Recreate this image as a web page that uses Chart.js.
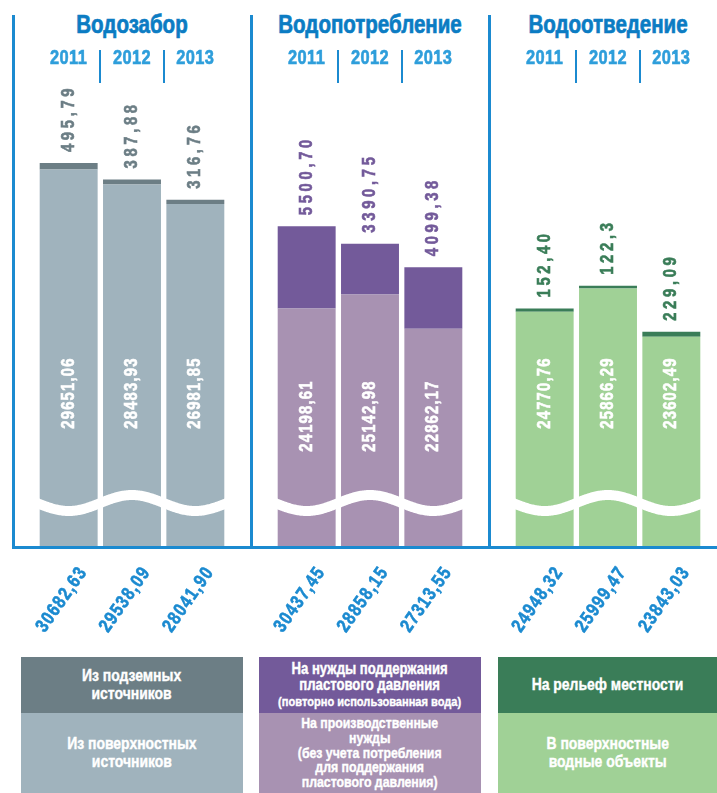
<!DOCTYPE html>
<html lang="ru">
<head>
<meta charset="utf-8">
<title>Водозабор, водопотребление, водоотведение</title>
<script src="https://cdn.jsdelivr.net/npm/chart.js@4.4.1/dist/chart.umd.min.js"></script>
<style>
  html, body { margin: 0; padding: 0; background: #fff; }
  body {
    width: 717px; height: 793px; position: relative; overflow: hidden;
    font-family: "Liberation Sans", Arial, sans-serif;
    font-weight: bold;
  }
  .frame { position: absolute; top: 15px; height: 533px; border-left: 3px solid #1b8ad0; }
  .axis-line { position: absolute; left: 12px; right: 0; top: 546px; height: 3px; background: #1b8ad0; z-index: 3; }
  h2 {
    position: absolute; top: 12px; margin: 0; width: 240px;
    text-align: center; font-size: 25px; line-height: 25px; color: #0b7cc3;
    transform: scaleX(0.82);
    -webkit-text-stroke: 0.7px #0b7cc3;
  }
  .chart-box { position: absolute; top: 40px; width: 230px; height: 610px; }
  .legend { position: absolute; top: 657px; color: #fff; text-align: center; }
  .legend > div { display: flex; align-items: center; justify-content: center; }
  .legend span {
    display: inline-block; transform: scaleX(0.82); white-space: nowrap;
    -webkit-text-stroke: 0.4px #fff;
  }
  .legend .dark  { height: 56px; }
  .legend .light { height: 80px; }
  .lg17 { font-size: 17px; line-height: 18px; }
  .lg16 { font-size: 16px; line-height: 16px; }
  .lg15 { font-size: 15px; line-height: 14.8px; }
  .small { font-size: 13.5px; }
</style>
</head>
<body>

<div class="frame" style="left:12px"></div>
<div class="frame" style="left:250px"></div>
<div class="frame" style="left:488px"></div>
<div class="axis-line"></div>

<h2 style="left:12px">Водозабор</h2>
<h2 style="left:250px">Водопотребление</h2>
<h2 style="left:488px">Водоотведение</h2>

<div class="chart-box" style="left:17px"><canvas id="c-intake"></canvas></div>
<div class="chart-box" style="left:255px"><canvas id="c-use"></canvas></div>
<div class="chart-box" style="left:493px"><canvas id="c-discharge"></canvas></div>

<div class="legend" style="left:21px; width:222px">
  <div class="dark lg17" style="background:#6c7e85"><span>Из подземных<br>источников</span></div>
  <div class="light lg17" style="background:#a0b3bd"><span>Из поверхностных<br>источников</span></div>
</div>
<div class="legend" style="left:259px; width:222px">
  <div class="dark lg16" style="background:#735a9a"><span>На нужды поддержания<br>пластового давления<br><b class="small">(повторно использованная вода)</b></span></div>
  <div class="light lg15" style="background:#a892b2"><span>На производственные<br>нужды<br>(без учета потребления<br>для поддержания<br>пластового давления)</span></div>
</div>
<div class="legend" style="left:498px; width:219px">
  <div class="dark lg17" style="background:#3a7d58"><span>На рельеф местности</span></div>
  <div class="light lg17" style="background:#a0d196"><span>В поверхностные<br>водные объекты</span></div>
</div>

<script>
// ── データ ──────────────────────────────────────────────
const YEARS = ["2011", "2012", "2013"];

// Водозабор
const intakeSurface = ["29651,06", "28483,93", "26981,85"];
const intakeGround  = ["495,79", "387,88", "316,76"];
const intakeTotal   = ["30682,63", "29538,09", "28041,90"];

// Водопотребление
const useProduction = ["24198,61", "25142,98", "22862,17"];
const usePressure   = ["5500,70", "3390,75", "4099,38"];
const useTotal      = ["30437,45", "28858,15", "27313,55"];

// Водоотведение
const dischargeSurface = ["24770,76", "25866,29", "23602,49"];
const dischargeRelief  = ["152,40", "122,3", "229,09"];
const dischargeTotal   = ["24948,32", "25999,47", "23843,03"];

// ── 設定 ────────────────────────────────────────────────
const FONT   = '"Liberation Sans", Arial, sans-serif';
const NARROW = 0.82;            // 幅を詰めてコンデンス書体に近づける
const BLUE   = "#1b8ad0";
const YEAR_BLUE = "#2e9edb";

const PANELS = [
  { id: "c-intake", lower: intakeSurface, upper: intakeGround, totals: intakeTotal,
    light: "#a0b3bd", dark: "#6c7e85", min: 400, max: 36350, innerY: 154 },
  { id: "c-use", lower: useProduction, upper: usePressure, totals: useTotal,
    light: "#a892b2", dark: "#735a9a", min: 8290, max: 39255, innerY: 131 },
  { id: "c-discharge", lower: dischargeSurface, upper: dischargeRelief, totals: dischargeTotal,
    light: "#a0d196", dark: "#3a7d58", min: 13730, max: 35508, innerY: 154 },
];

const num = (s) => parseFloat(s.replace(",", "."));

// 回転・横圧縮したテキスト（少し太らせる）
function squeezeText(ctx, text, x, y, angle) {
  ctx.save();
  ctx.translate(x, y);
  ctx.rotate(angle);
  ctx.scale(NARROW, 1);
  ctx.fillText(text, 0, 0);
  ctx.strokeStyle = ctx.fillStyle;
  ctx.lineWidth = 0.6;
  ctx.strokeText(text, 0, 0);
  ctx.restore();
}

// ── 波線（軸の省略） ────────────────────────────────────
const wavePlugin = {
  id: "breakWave",
  afterDatasetsDraw(chart) {
    const { ctx, chartArea } = chart;
    const x = chart.scales.x;
    const mid = x.getPixelForValue(1);
    const step = x.getPixelForValue(1) - x.getPixelForValue(0);
    const y0 = chartArea.bottom - 44;
    ctx.save();
    ctx.beginPath();
    for (let px = chartArea.left - 2; px <= chartArea.right + 2; px++) {
      const y = y0 - 8 * Math.cos((Math.PI * (px - mid)) / step);
      px === chartArea.left - 2 ? ctx.moveTo(px, y) : ctx.lineTo(px, y);
    }
    ctx.strokeStyle = "#fff";
    ctx.lineWidth = 10;
    ctx.stroke();
    ctx.restore();
  },
};

// ── 値ラベル ────────────────────────────────────────────
const labelPlugin = {
  id: "barLabels",
  afterDatasetsDraw(chart, args, opts) {
    const { ctx, chartArea } = chart;
    const lower = chart.getDatasetMeta(0).data;
    const upper = chart.getDatasetMeta(1).data;
    ctx.save();
    ctx.textBaseline = "middle";

    // 棒の上のラベル
    ctx.font = `bold 18px ${FONT}`;
    ctx.letterSpacing = "4.5px";
    ctx.fillStyle = opts.color;
    ctx.textAlign = "left";
    upper.forEach((bar, i) => squeezeText(ctx, opts.upper[i], bar.x, bar.y - 11, -Math.PI / 2));

    // 棒の中の白いラベル
    ctx.letterSpacing = "1.5px";
    ctx.fillStyle = "#fff";
    ctx.textAlign = "center";
    lower.forEach((bar, i) =>
      squeezeText(ctx, opts.lower[i], bar.x, chartArea.bottom - opts.innerY, -Math.PI / 2));
    ctx.restore();
  },
};

// ── 年と合計（軸ラベル） ────────────────────────────────
const axisTextPlugin = {
  id: "axisText",
  afterDraw(chart, args, opts) {
    const { ctx, chartArea } = chart;
    const x = chart.scales.x;
    ctx.save();

    ctx.font = `bold 20px ${FONT}`;
    ctx.letterSpacing = "0.5px";
    ctx.fillStyle = YEAR_BLUE;
    ctx.textAlign = "center";
    ctx.textBaseline = "middle";
    chart.data.labels.forEach((lbl, i) =>
      squeezeText(ctx, lbl, x.getPixelForValue(i), chartArea.top - 25, 0));

    ctx.font = `bold 19px ${FONT}`;
    ctx.letterSpacing = "1.5px";
    ctx.fillStyle = BLUE;
    ctx.textAlign = "right";
    ctx.textBaseline = "alphabetic";
    opts.totals.forEach((t, i) =>
      squeezeText(ctx, t, x.getPixelForValue(i) + 19, chartArea.bottom + 25, (-55 * Math.PI) / 180));
    ctx.restore();
  },
};

// ── チャート描画 ────────────────────────────────────────
function buildPanel(p) {
  return new Chart(document.getElementById(p.id), {
    type: "bar",
    plugins: [wavePlugin, labelPlugin, axisTextPlugin],
    data: {
      labels: YEARS,
      datasets: [
        { data: p.lower.map(num), backgroundColor: p.light, xAxisID: "x", yAxisID: "y" },
        { data: p.upper.map(num), backgroundColor: p.dark, xAxisID: "x", yAxisID: "y" },
      ],
    },
    options: {
      responsive: true,
      maintainAspectRatio: false,
      animation: false,
      layout: { padding: { left: 20, right: 20, top: 0, bottom: 0 } },
      datasets: { bar: { categoryPercentage: 1, barPercentage: 0.915, borderWidth: 0 } },
      plugins: {
        legend: { display: false },
        tooltip: { enabled: false },
        barLabels: { color: p.dark, upper: p.upper, lower: p.lower, innerY: p.innerY },
        axisText: { totals: p.totals },
      },
      scales: {
        x: {
          stacked: true,
          position: "bottom",
          grid: { display: false, drawTicks: false },
          border: { display: false },
          ticks: { display: false },
          afterFit: (s) => { s.height = 103; s.paddingLeft = 0; s.paddingRight = 0; },
        },
        xTop: {
          type: "category",
          position: "top",
          offset: true,
          grid: {
            offset: true,
            drawOnChartArea: false,
            drawTicks: true,
            tickLength: 33,
            lineWidth: 2,
            color: (c) => (c.index === 1 || c.index === 2 ? BLUE : "rgba(0,0,0,0)"),
          },
          border: { display: false },
          ticks: { display: false },
          afterFit: (s) => { s.height = 43; s.paddingLeft = 0; s.paddingRight = 0; },
        },
        y: { stacked: true, display: false, min: p.min, max: p.max },
      },
    },
  });
}

PANELS.forEach(buildPanel);
</script>
</body>
</html>
